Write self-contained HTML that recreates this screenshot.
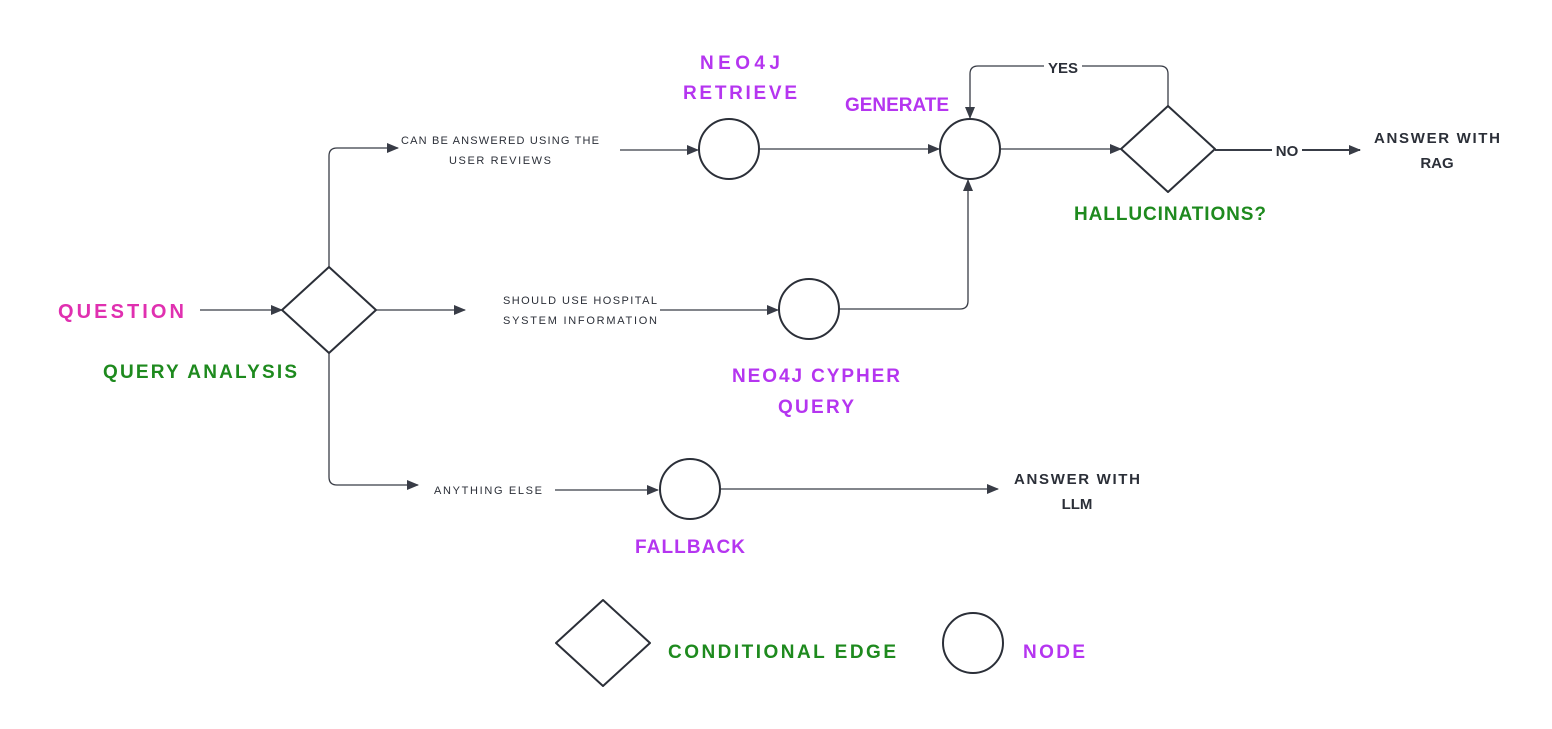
<!DOCTYPE html>
<html><head><meta charset="utf-8"><style>
html,body{margin:0;padding:0;background:#fff;}
svg{display:block}
text{font-family:"Liberation Sans",sans-serif;font-weight:bold;}
.s{font-size:11px;fill:#2b2f38;font-weight:normal}
.p{fill:#b535f0;font-size:19px}
.g{fill:#1e8a1e;font-size:19px}
.d{fill:#2b2f38;font-size:15px}
</style></head><body>
<svg width="1552" height="729" viewBox="0 0 1552 729" xmlns="http://www.w3.org/2000/svg">
<defs><marker id="a" markerWidth="12" markerHeight="10" refX="11" refY="5" orient="auto" markerUnits="userSpaceOnUse"><path d="M0,0 L12,5 L0,10 Z" fill="#383c46"/></marker></defs>
<g fill="none" stroke="#383c46" stroke-width="1.3">
<path d="M200,310 H282" marker-end="url(#a)"/>
<path d="M329,267 V156 Q329,148 337,148 H398" marker-end="url(#a)"/>
<path d="M620,150 H698" marker-end="url(#a)"/>
<path d="M760,149 H939" marker-end="url(#a)"/>
<path d="M1001,149 H1121" marker-end="url(#a)"/>
<path d="M1168,106 V74 Q1168,66 1160,66 H978 Q970,66 970,74 V118" marker-end="url(#a)"/>
<path d="M1215,150 H1360" marker-end="url(#a)" stroke-width="2"/>
<path d="M376,310 H465" marker-end="url(#a)"/>
<path d="M660,310 H778" marker-end="url(#a)"/>
<path d="M839,309 H960 Q968,309 968,301 V180" marker-end="url(#a)"/>
<path d="M329,353 V477 Q329,485 337,485 H418" marker-end="url(#a)"/>
<path d="M555,490 H658" marker-end="url(#a)"/>
<path d="M720,489 H998" marker-end="url(#a)"/>
</g>
<g fill="#fff" stroke="#2b2f38" stroke-width="2">
<path d="M329,267 L376,310 L329,353 L282,310 Z" stroke-linejoin="round"/>
<path d="M1168,106 L1215,149 L1168,192 L1121,149 Z" stroke-linejoin="round"/>
<path d="M603,600 L650,643 L603,686 L556,643 Z" stroke-linejoin="round"/>
<circle cx="729" cy="149" r="30"/>
<circle cx="970" cy="149" r="30"/>
<circle cx="809" cy="309" r="30"/>
<circle cx="690" cy="489" r="30"/>
<circle cx="973" cy="643" r="30"/>
</g>
<rect x="1044" y="58" width="38" height="18" fill="#fff"/>
<rect x="1272" y="142" width="30" height="18" fill="#fff"/>
<text x="58" y="318" font-size="20" fill="#e030b0" textLength="126">QUESTION</text>
<text x="103" y="378" class="g" textLength="194">QUERY ANALYSIS</text>
<text x="500" y="144" class="s" text-anchor="middle" textLength="198">CAN BE ANSWERED USING THE</text>
<text x="500" y="164" class="s" text-anchor="middle" textLength="102">USER REVIEWS</text>
<text x="740" y="69" class="p" text-anchor="middle" textLength="80">NEO4J</text>
<text x="740" y="99" class="p" text-anchor="middle" textLength="114">RETRIEVE</text>
<text x="897" y="111" class="p" text-anchor="middle" textLength="104">GENERATE</text>
<text x="1063" y="73" class="d" text-anchor="middle">YES</text>
<text x="1287" y="156" class="d" text-anchor="middle">NO</text>
<text x="1437" y="143" class="d" text-anchor="middle" textLength="126">ANSWER WITH</text>
<text x="1437" y="168" class="d" text-anchor="middle">RAG</text>
<text x="1170" y="220" class="g" font-size="17" text-anchor="middle" textLength="192">HALLUCINATIONS?</text>
<text x="580" y="304" class="s" text-anchor="middle" textLength="154">SHOULD USE HOSPITAL</text>
<text x="580" y="324" class="s" text-anchor="middle" textLength="154">SYSTEM INFORMATION</text>
<text x="816" y="382" class="p" text-anchor="middle" textLength="168">NEO4J CYPHER</text>
<text x="816" y="413" class="p" text-anchor="middle" textLength="76">QUERY</text>
<text x="488" y="494" class="s" text-anchor="middle" textLength="108">ANYTHING ELSE</text>
<text x="1077" y="484" class="d" text-anchor="middle" textLength="126">ANSWER WITH</text>
<text x="1077" y="509" class="d" text-anchor="middle">LLM</text>
<text x="690" y="553" class="p" text-anchor="middle" textLength="110">FALLBACK</text>
<text x="668" y="658" class="g" textLength="228">CONDITIONAL EDGE</text>
<text x="1023" y="658" class="p" textLength="62">NODE</text>
</svg>
</body></html>
